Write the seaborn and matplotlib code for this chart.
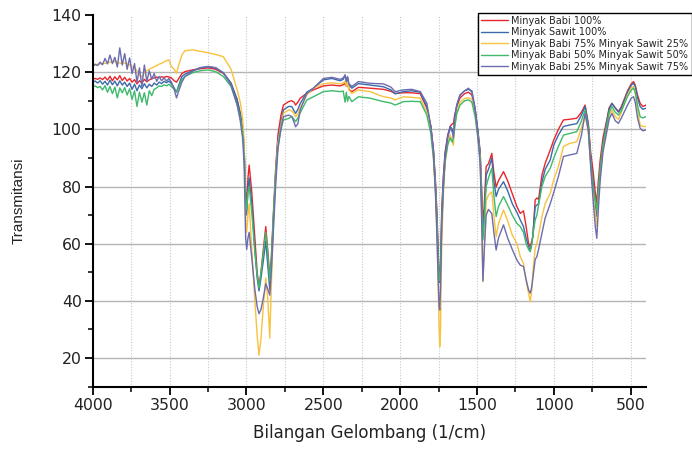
import numpy as np
import pandas as pd
import matplotlib
matplotlib.use("Agg")
import matplotlib.pyplot as plt
import matplotlib.ticker as mticker
import seaborn as sns

# wavenumber grid (1/cm): noisy high-wavenumber part + main spectrum
bilangan_noisy = [4000, 3984, 3968, 3952, 3936, 3920, 3904, 3888, 3872, 3856,
                  3840, 3824, 3808, 3792, 3776, 3760, 3744, 3728, 3712, 3696,
                  3680, 3664, 3648, 3632, 3616, 3600, 3584, 3568, 3552, 3536,
                  3520, 3504, 3488]
bilangan_main = [3470, 3455, 3440, 3420, 3400, 3350, 3300, 3250, 3200, 3150,
                 3100, 3060, 3040, 3025, 3015, 3005, 2998, 2990, 2982, 2965,
                 2945, 2930, 2918, 2905, 2890, 2874, 2860, 2848, 2838, 2825,
                 2810, 2795, 2775, 2759, 2726, 2705, 2690, 2680, 2665, 2650,
                 2607, 2564, 2499, 2444, 2390, 2370, 2358, 2350, 2342, 2333,
                 2314, 2271, 2195, 2108, 2060, 2032, 1978, 1925, 1869, 1840,
                 1826, 1800, 1783, 1770, 1761, 1752, 1746, 1742, 1737, 1729,
                 1718, 1707, 1690, 1674, 1660, 1653, 1645, 1631, 1610, 1580,
                 1555, 1533, 1512, 1495, 1479, 1470, 1461, 1450, 1440, 1425,
                 1403, 1390, 1375, 1360, 1327, 1300, 1270, 1240, 1218, 1197,
                 1180, 1164, 1153, 1143, 1136, 1121, 1110, 1099, 1077, 1056,
                 1023, 1000, 970, 937, 900, 850, 820, 796, 775, 760,
                 745, 730, 720, 710, 698, 680, 655, 640, 622, 600,
                 579, 560, 520, 495, 481, 470, 455, 438, 420, 401]
bilangan = bilangan_noisy + bilangan_main

babi_100 = [117.6, 117.8, 117.5, 118.0, 117.4, 118.3, 117.2, 118.6, 117.0, 118.4,
            117.3, 118.8, 117.1, 118.2, 116.9, 117.8, 116.5, 117.4, 115.9, 117.0,
            116.2, 117.5, 116.6, 117.3, 117.8, 118.0, 118.3, 118.1, 118.4, 118.2,
            118.5, 118.3, 118.0] + [
            117.0, 116.5, 117.8, 119.5, 120.2, 120.8, 121.2, 121.5, 121.0, 119.6,
            116.0, 110.0, 105.5, 101.0, 94.0, 78.0, 74.0, 83.0, 87.5, 78.0,
            62.0, 50.0, 45.0, 50.0, 58.0, 66.0, 57.0, 48.0, 55.0, 70.0,
            86.0, 98.0, 105.0, 108.5, 109.7, 110.0, 109.5, 108.5, 109.5, 110.9,
            112.6, 113.8, 115.2, 115.5, 115.2, 115.6, 116.0, 115.0, 116.2, 114.0,
            113.2, 114.7, 114.4, 114.0, 113.3, 112.6, 112.8, 112.8, 112.5, 109.0,
            107.4, 101.0, 93.0, 82.0, 72.0, 58.0, 48.0, 47.3, 52.0, 72.0,
            84.0, 92.0, 98.0, 101.0, 102.0, 102.0, 105.0, 108.0, 111.0, 112.5,
            113.0, 112.0, 107.0, 100.0, 92.0, 80.0, 66.0, 76.0, 87.0, 88.0,
            91.6, 85.0, 79.8, 82.0, 85.2, 82.0, 77.5, 73.0, 70.6, 71.5,
            66.0, 60.1, 59.0, 61.0, 62.5, 75.3, 76.0, 75.5, 84.0, 88.1,
            92.8, 96.3, 100.0, 103.3, 103.5, 103.9, 106.0, 108.5, 102.0, 92.0,
            85.8, 78.0, 74.0, 82.0, 89.3, 97.0, 103.3, 107.5, 109.1, 107.5,
            106.2, 108.0, 113.5, 116.0, 116.7, 115.5, 112.0, 109.1, 108.0, 108.5]

sawit_100 = [116.5, 116.9, 116.2, 117.0, 115.8, 116.8, 115.5, 117.2, 115.6, 116.9,
             115.2, 117.0, 115.5, 116.5, 115.0, 116.2, 114.0, 115.8, 113.5, 115.5,
             114.2, 116.0, 114.5, 115.8, 115.0, 116.2, 115.5, 116.5, 116.0, 116.8,
             116.3, 116.9, 116.0] + [
             114.5, 113.0, 115.5, 118.5, 119.3, 120.5, 121.6, 121.9, 121.4, 119.8,
             116.2, 110.5, 105.5, 100.5, 93.0, 74.0, 70.0, 79.0, 83.0, 74.0,
             58.0, 48.0, 43.5, 48.0, 54.0, 61.0, 52.0, 44.0, 52.0, 68.0,
             84.0, 96.0, 102.5, 106.8, 108.0, 108.0, 106.5, 105.6, 107.0, 109.0,
             113.0, 114.4, 117.3, 117.8, 117.0, 117.5, 119.0, 116.5, 118.2, 115.5,
             114.4, 116.0, 115.5, 114.9, 113.8, 112.4, 113.2, 113.5, 113.0, 109.5,
             108.0, 101.0, 92.5, 81.0, 70.0, 56.0, 47.0, 46.5, 50.0, 70.0,
             83.0, 91.6, 97.5, 101.0, 100.0, 98.5, 104.0, 108.5, 112.0, 113.5,
             114.0, 113.5, 107.5, 100.0, 92.0, 78.0, 62.5, 72.0, 84.0, 86.0,
             89.9, 82.0, 76.5, 79.0, 81.7, 78.5, 74.0, 71.0, 68.3, 66.0,
             62.0, 59.0, 57.8, 60.0, 63.0, 73.0, 73.5, 74.0, 81.5, 86.0,
             89.3, 94.5, 98.0, 101.0, 101.5, 102.0, 105.0, 108.0, 101.5, 90.0,
             82.0, 74.0, 69.5, 78.0, 86.0, 95.0, 102.7, 107.0, 109.1, 107.5,
             106.0, 107.5, 113.0, 115.5, 116.1, 115.0, 111.0, 108.0, 107.0, 107.4]

babi75_sawit25 = [122.3, 122.5, 122.8, 122.9, 123.0, 123.1, 123.2, 123.6, 123.4, 123.8,
                  123.5, 123.2, 123.0, 123.3, 122.9, 122.5, 122.0, 121.4, 120.5, 119.0,
                  118.4, 119.8, 120.6, 121.0, 121.5, 121.9, 122.3, 122.8, 123.1, 123.6,
                  124.0, 124.3, 122.0] + [
                  121.0, 119.6, 122.5, 126.0, 127.5, 127.8, 127.3, 126.8, 126.2, 125.4,
                  121.0, 113.8, 109.5, 104.0, 96.0, 68.0, 64.0, 70.0, 74.0, 58.0,
                  40.0, 28.0, 21.0, 27.0, 38.0, 48.0, 40.0, 27.0, 45.0, 66.0,
                  83.0, 95.0, 101.5, 105.6, 106.8, 106.5, 105.5, 104.4, 105.5, 107.5,
                  112.0, 114.4, 115.9, 116.3, 115.9, 116.2, 116.8, 115.0, 116.5, 113.8,
                  112.6, 113.8, 113.2, 111.4, 111.0, 110.3, 111.4, 111.2, 110.9, 107.5,
                  106.0, 99.5, 90.0, 78.0, 65.0, 45.0, 30.0, 24.0, 30.0, 60.0,
                  78.0, 88.0, 95.0, 98.0, 96.0, 94.5, 101.0, 106.0, 109.5, 110.8,
                  111.0, 110.5, 105.5, 98.0, 90.0, 72.0, 46.7, 62.0, 75.0, 77.0,
                  78.2, 70.0, 62.5, 67.0, 71.8, 68.0, 63.0, 60.1, 55.5, 53.0,
                  47.0, 42.7, 39.7, 43.8, 50.0, 58.5, 60.1, 63.0, 69.5, 74.0,
                  77.6, 82.5, 87.0, 94.0, 95.0, 95.7, 100.5, 105.0, 99.0, 88.0,
                  78.0, 70.0, 66.0, 76.0, 84.0, 93.0, 99.8, 104.5, 106.8, 104.5,
                  103.5, 106.0, 112.0, 114.5, 115.0, 113.0, 106.5, 101.5, 101.0, 101.0]

babi50_sawit50 = [114.9, 115.2, 114.6, 115.0, 113.8, 115.3, 113.0, 115.0, 112.5, 114.8,
                  111.0, 114.5, 112.8, 114.6, 112.0, 114.2, 110.5, 113.5, 108.0, 113.0,
                  109.5, 112.8, 108.5, 113.5, 111.8, 114.0, 114.5, 115.2, 115.0, 115.6,
                  115.2, 115.8, 115.0] + [
                  114.0, 113.2, 114.8, 117.5, 118.5, 119.8, 120.5, 120.8, 120.2, 118.5,
                  115.0, 108.5, 104.0, 99.5, 92.0, 75.0, 72.0, 78.0, 80.0, 71.0,
                  57.0, 49.0, 44.5, 50.0, 57.0, 64.0, 56.0, 47.0, 54.0, 69.0,
                  84.0, 94.0, 100.0, 103.3, 103.8, 104.5, 103.5, 102.7, 104.0, 105.8,
                  110.3, 111.4, 113.2, 113.5, 113.2, 113.4, 109.5, 113.0, 109.8, 111.5,
                  109.7, 111.4, 110.9, 109.7, 109.2, 108.5, 109.7, 109.8, 109.7, 106.5,
                  105.0, 98.5, 90.0, 79.0, 68.0, 54.0, 47.5, 47.0, 51.0, 68.0,
                  80.0, 89.0, 94.5, 97.0, 95.5, 97.4, 100.5, 105.5, 108.5, 110.0,
                  110.3, 109.5, 104.5, 97.5, 89.0, 76.0, 61.3, 70.0, 80.0, 83.0,
                  86.4, 77.0, 69.5, 73.0, 76.5, 73.5, 70.0, 67.1, 66.0, 64.0,
                  60.0, 58.0, 57.2, 60.0, 63.0, 68.3, 70.0, 73.5, 80.0, 83.5,
                  86.4, 90.0, 94.0, 98.0, 98.5, 99.2, 103.0, 106.8, 100.5, 89.0,
                  80.0, 75.0, 71.8, 79.0, 86.5, 94.5, 101.5, 105.8, 108.0, 106.0,
                  105.0, 106.5, 111.5, 113.8, 114.4, 113.0, 108.5, 104.4, 104.0, 104.4]

babi25_sawit75 = [122.0, 122.8, 122.3, 123.5, 122.6, 124.8, 122.9, 126.0, 123.0, 125.2,
                  121.8, 128.5, 122.5, 126.5, 121.0, 125.0, 119.5, 123.0, 116.5, 121.5,
                  115.0, 122.5, 116.8, 120.5, 117.5, 119.5, 116.8, 118.5, 117.0, 118.0,
                  116.9, 117.8, 116.5] + [
                  114.0, 111.0, 113.5, 116.5, 118.5, 120.3, 121.5, 122.0, 121.6, 119.8,
                  115.5, 108.5, 103.0, 97.0, 88.0, 62.0, 58.0, 62.0, 64.0, 55.0,
                  44.0, 38.0, 35.5, 37.0, 41.0, 46.0, 44.0, 42.0, 50.0, 64.0,
                  80.0, 93.0, 100.5, 104.4, 105.0, 104.5, 102.5, 100.9, 102.0, 106.8,
                  112.6, 114.4, 117.8, 118.2, 117.5, 118.0, 119.0, 116.8, 118.5, 116.0,
                  115.0, 116.7, 116.1, 115.9, 114.8, 113.2, 113.8, 114.0, 113.2, 110.5,
                  109.1, 101.0, 92.0, 78.0, 64.0, 47.0, 38.0, 36.8, 44.0, 66.0,
                  80.0, 90.0, 97.0, 100.5, 99.0, 97.0, 103.5, 108.5, 112.0, 113.5,
                  114.4, 113.0, 106.8, 99.0, 88.0, 70.0, 47.0, 60.0, 70.0, 72.0,
                  70.5, 64.0, 57.8, 62.0, 66.6, 62.0, 58.0, 54.3, 52.5, 52.0,
                  47.5, 43.8, 42.7, 45.0, 48.0, 54.5, 55.5, 58.0, 63.6, 69.0,
                  74.0, 78.0, 83.5, 90.5, 91.0, 91.6, 98.0, 105.6, 99.5, 87.0,
                  76.0, 66.0, 61.9, 72.0, 82.0, 92.0, 99.2, 103.5, 105.6, 103.0,
                  102.1, 104.0, 108.5, 111.0, 111.4, 109.5, 104.0, 100.4, 99.5, 99.8]

sampel = ["Minyak Babi 100%", "Minyak Sawit 100%",
          "Minyak Babi 75% Minyak Sawit 25%", "Minyak Babi 50% Minyak Sawit 50%",
          "Minyak Babi 25% Minyak Sawit 75%"]
spektra = [babi_100, sawit_100, babi75_sawit25, babi50_sawit50, babi25_sawit75]
warna = ["#e8262b", "#3c6aaa", "#f7c23e", "#3dba6b", "#6c6cae"]

for s in spektra:
    assert len(s) == len(bilangan), len(s)

sns.set_style("white")
plt.rcParams['font.family'] = ['DejaVu Sans']

fig = plt.figure(figsize=(6.92, 4.49), dpi=100)
ax = fig.add_axes([0.134, 0.1388, 0.7995, 0.8278])

for nama, nilai, c in zip(sampel, spektra, warna):
    sns.lineplot(x=bilangan, y=nilai, color=c, label=nama, lw=1.0,
                 estimator=None, sort=False, ax=ax)

ax.set_xlim(4000, 400)
ax.set_ylim(10, 140)
ax.xaxis.set_major_locator(mticker.MultipleLocator(500))
ax.xaxis.set_minor_locator(mticker.MultipleLocator(250))
ax.yaxis.set_major_locator(mticker.MultipleLocator(20))
ax.yaxis.set_minor_locator(mticker.MultipleLocator(10))
ax.set_yticks(range(20, 141, 20))

# grid: solid horizontal, dotted vertical
for y in range(20, 121, 20):
    ax.axhline(y, color="#b4b4b4", lw=1.0, zorder=0)
for x in range(500, 4000, 250):
    ax.axvline(x, color="#c8c8c8", lw=0.8, ls=(0, (1, 1.5)), zorder=0)

for side in ["top", "right"]:
    ax.spines[side].set_visible(False)
for side in ["left", "bottom"]:
    ax.spines[side].set_color("black")
    ax.spines[side].set_linewidth(1.5)

ax.tick_params(which="major", direction="out", length=6, width=1.3,
               color="black", labelsize=11.3, labelcolor="#222222", pad=2,
               left=True, bottom=True)
ax.tick_params(which="minor", direction="out", length=3.5, width=1.1,
               color="black", left=True, bottom=True)

ax.set_xlabel("Bilangan Gelombang (1/cm)", fontsize=12, color="#222222", labelpad=8)
ax.set_ylabel("Transmitansi", fontsize=11, color="#222222", labelpad=19,
              family="Liberation Sans")

ax.legend(loc="upper left", bbox_to_anchor=(0.691, 0.972),
          bbox_transform=fig.transFigure, fontsize=7.05, frameon=True,
          fancybox=False, edgecolor="black", framealpha=1,
          handlelength=2.7, handletextpad=0.4, borderpad=0.3,
          labelspacing=0.16, borderaxespad=0)
ax.get_legend().get_frame().set_linewidth(1.0)

fig.savefig("out.png", dpi=100)
